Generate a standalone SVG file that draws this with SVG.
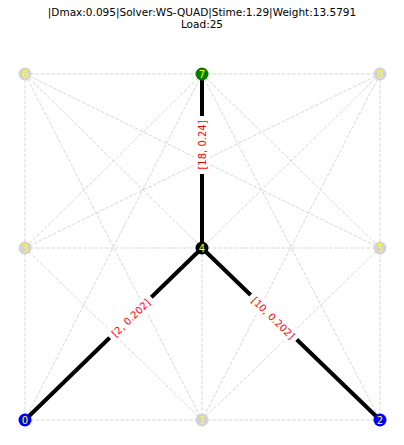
<svg xmlns="http://www.w3.org/2000/svg" width="404" height="445" viewBox="0 0 404 445">
<style>
.bg{fill:#ffffff}
.title{font-family:"DejaVu Sans",sans-serif;font-size:10.5px;fill:#000;text-anchor:middle}
.d{stroke:#d3d3d3;stroke-width:0.9;stroke-dasharray:3.7 1.6;fill:none}
.e{stroke:#000;stroke-width:4;fill:none}
.n{stroke:none}
.nl{font-family:"DejaVu Sans",sans-serif;font-size:10px;fill:#ffff00;text-anchor:middle;dominant-baseline:central}
.el{font-family:"DejaVu Sans",sans-serif;font-size:10px;fill:#ff0000;text-anchor:middle;dominant-baseline:central}
.lb{fill:#ffffff;stroke:none}
</style>
<rect class="bg" x="0" y="0" width="404" height="445"/>
<text class="title" x="202" y="16">|Dmax:0.095|Solver:WS-QUAD|Stime:1.29|Weight:13.5791</text>
<text class="title" x="202" y="28">Load:25</text>
<g id="connectors">
  <g id="dashed">
    <line class="d" x1="25" y1="74" x2="202" y2="74"/>
    <line class="d" x1="202" y1="74" x2="380" y2="74"/>
    <line class="d" x1="25" y1="248" x2="202" y2="248"/>
    <line class="d" x1="202" y1="248" x2="380" y2="248"/>
    <line class="d" x1="25" y1="420" x2="202" y2="420"/>
    <line class="d" x1="202" y1="420" x2="380" y2="420"/>
    <line class="d" x1="25" y1="74" x2="25" y2="248"/>
    <line class="d" x1="25" y1="248" x2="25" y2="420"/>
    <line class="d" x1="202" y1="248" x2="202" y2="420"/>
    <line class="d" x1="380" y1="74" x2="380" y2="248"/>
    <line class="d" x1="380" y1="248" x2="380" y2="420"/>
    <line class="d" x1="25" y1="74" x2="202" y2="248"/>
    <line class="d" x1="380" y1="74" x2="202" y2="248"/>
    <line class="d" x1="202" y1="74" x2="25" y2="248"/>
    <line class="d" x1="202" y1="74" x2="380" y2="248"/>
    <line class="d" x1="25" y1="248" x2="202" y2="420"/>
    <line class="d" x1="380" y1="248" x2="202" y2="420"/>
    <line class="d" x1="25" y1="74" x2="380" y2="248"/>
    <line class="d" x1="380" y1="74" x2="25" y2="248"/>
    <line class="d" x1="25" y1="74" x2="202" y2="420"/>
    <line class="d" x1="380" y1="74" x2="202" y2="420"/>
    <line class="d" x1="202" y1="74" x2="25" y2="420"/>
    <line class="d" x1="202" y1="74" x2="380" y2="420"/>
  </g>
  <g id="solid">
    <line class="e" x1="202" y1="74" x2="202" y2="248"/>
    <line class="e" x1="202" y1="248" x2="25" y2="420"/>
    <line class="e" x1="202" y1="248" x2="380" y2="420"/>
  </g>
</g>
<g id="node-6"><circle class="n" cx="25" cy="74" r="6.5" fill="#d3d3d3"/><text class="nl" x="25" y="74">6</text></g>
<g id="node-7"><circle class="n" cx="202" cy="74" r="6.5" fill="#008000"/><text class="nl" x="202" y="74">7</text></g>
<g id="node-8"><circle class="n" cx="380" cy="74" r="6.5" fill="#d3d3d3"/><text class="nl" x="380" y="74">8</text></g>
<g id="node-3"><circle class="n" cx="25" cy="248" r="6.5" fill="#d3d3d3"/><text class="nl" x="25" y="248">3</text></g>
<g id="node-4"><circle class="n" cx="202" cy="248" r="6.5" fill="#000000"/><text class="nl" x="202" y="248">4</text></g>
<g id="node-5"><circle class="n" cx="380" cy="248" r="6.5" fill="#d3d3d3"/><text class="nl" x="380" y="248">5</text></g>
<g id="node-0"><circle class="n" cx="25" cy="420" r="6.5" fill="#0000ff"/><text class="nl" x="25" y="420">0</text></g>
<g id="node-1"><circle class="n" cx="202" cy="420" r="6.5" fill="#d3d3d3"/><text class="nl" x="202" y="420">1</text></g>
<g id="node-2"><circle class="n" cx="380" cy="420" r="6.5" fill="#0000ff"/><text class="nl" x="380" y="420">2</text></g>
<g id="edge-labels">
  <g transform="translate(202,145) rotate(-90)">
    <rect class="lb" x="-29" y="-8" width="58" height="16" rx="3"/>
    <text class="el" x="0" y="0">[18, 0.24]</text>
  </g>
  <g transform="translate(131,318) rotate(-44.2)">
    <rect class="lb" x="-29" y="-8" width="58" height="16" rx="3"/>
    <text class="el" x="0" y="0">[2, 0.202]</text>
  </g>
  <g transform="translate(273,318) rotate(44.2)">
    <rect class="lb" x="-32" y="-8" width="64" height="16" rx="3"/>
    <text class="el" x="0" y="0">[10, 0.202]</text>
  </g>
</g>
</svg>
